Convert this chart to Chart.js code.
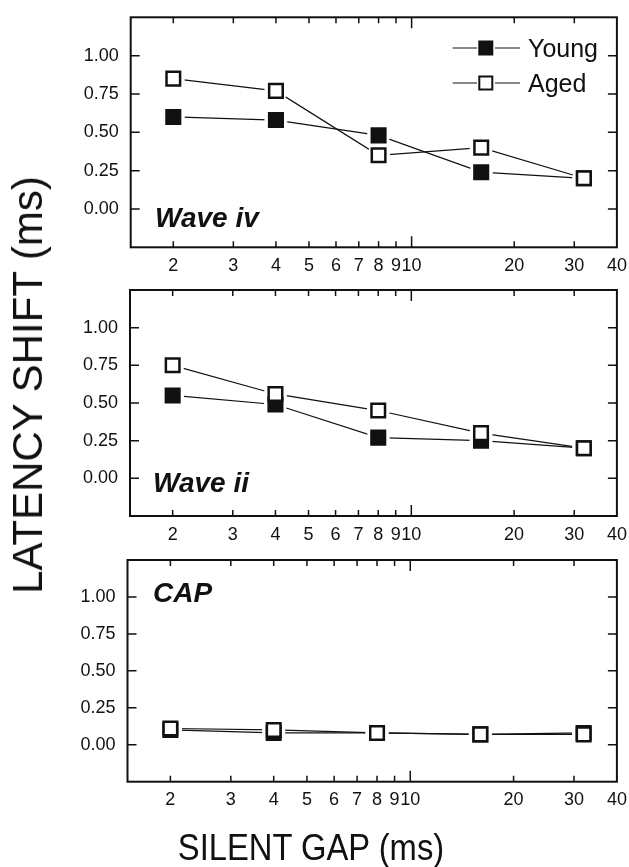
<!DOCTYPE html>
<html><head><meta charset="utf-8">
<script src="https://cdn.jsdelivr.net/npm/chart.js@4.4.1/dist/chart.umd.min.js"></script>
<style>
html,body{margin:0;padding:0;background:#fff;}
#wrap{position:relative;width:629px;height:867px;overflow:hidden;font-family:"Liberation Sans",Arial,sans-serif;background:#fff;}
canvas{position:absolute;left:0;top:0;}
.t{position:absolute;white-space:nowrap;color:#111;line-height:1;}
#ytitle{left:28px;top:385px;font-size:42px;transform:translate(-50%,-50%) rotate(-90deg);}
#xtitle{left:310.5px;top:830px;font-size:36px;transform:translateX(-50%) scaleX(0.91);}
</style></head><body>
<div id="wrap">
<canvas id="c1" width="629" height="867"></canvas>
<canvas id="c2" width="629" height="867"></canvas>
<canvas id="c3" width="629" height="867"></canvas>
<div class="t" id="ytitle">LATENCY SHIFT (ms)</div>
<div class="t" id="xtitle">SILENT GAP (ms)</div>
</div>
<script>
// ---- data ----
const gaps = [2, 4, 8, 16, 32];
const waveIvYoung = [0.60, 0.58, 0.48, 0.24, 0.20];
const waveIvAged  = [0.85, 0.77, 0.35, 0.40, 0.20];
const waveIiYoung = [0.55, 0.49, 0.27, 0.25, 0.20];
const waveIiAged  = [0.75, 0.56, 0.45, 0.30, 0.20];
const capYoung    = [0.10, 0.08, 0.08, 0.07, 0.08];
const capAged     = [0.11, 0.10, 0.08, 0.07, 0.07];
const xTickLabels = [2, 3, 4, 5, 6, 7, 8, 9, 10, 20, 30, 40];
const yTickLabels = [0.00, 0.25, 0.50, 0.75, 1.00];
const seriesNames = ['Young', 'Aged'];
const panelNames  = ['Wave iv', 'Wave ii', 'CAP'];

const ink = '#111';
const FONT = '"Liberation Sans", Arial, sans-serif';
Chart.defaults.font.family = FONT;
Chart.defaults.color = ink;

const framePlugin = {
  id: 'frame',
  afterDraw(chart, args, opts) {
    const {ctx, chartArea: a} = chart;
    const x = chart.scales.x, y = chart.scales.y;
    ctx.save();
    ctx.strokeStyle = ink;
    ctx.lineWidth = 2;
    ctx.strokeRect(a.left, a.top, a.right - a.left, a.bottom - a.top);
    ctx.lineWidth = 1.5;
    ctx.beginPath();
    y.ticks.forEach(t => {
      if (t.value <= y.min + 1e-9 || t.value >= y.max - 1e-9) return;
      const py = y.getPixelForValue(t.value);
      const major = Math.abs(t.value * 4 - Math.round(t.value * 4)) < 1e-9;
      const L = major ? 9 : 6;
      ctx.moveTo(a.left, py); ctx.lineTo(a.left + L, py);
      ctx.moveTo(a.right, py); ctx.lineTo(a.right - L, py);
    });
    x.ticks.forEach(t => {
      if (t.value >= x.max) return;
      const px = x.getPixelForValue(t.value);
      const L = t.value === 10 ? 11 : 6;
      ctx.moveTo(px, a.bottom); ctx.lineTo(px, a.bottom - L);
      ctx.moveTo(px, a.top); ctx.lineTo(px, a.top + L);
    });
    ctx.stroke();
    // panel label
    ctx.fillStyle = ink;
    ctx.font = 'italic bold 28px ' + FONT;
    ctx.textBaseline = 'alphabetic';
    ctx.textAlign = 'left';
    ctx.fillText(opts.label, opts.lx, opts.ly);
    // legend
    if (opts.legend) {
      const rows = [{name: seriesNames[0], fill: ink, cy: 48}, {name: seriesNames[1], fill: '#fff', cy: 83}];
      rows.forEach(r => {
        ctx.lineWidth = 1.2;
        ctx.strokeStyle = ink;
        ctx.beginPath();
        ctx.moveTo(452.7, r.cy); ctx.lineTo(477, r.cy);
        ctx.moveTo(495, r.cy); ctx.lineTo(520, r.cy);
        ctx.stroke();
        ctx.fillStyle = r.fill;
        ctx.fillRect(479.3, r.cy - 6.5, 13, 13);
        ctx.lineWidth = 2;
        ctx.strokeRect(479.3, r.cy - 6.5, 13, 13);
        ctx.fillStyle = ink;
        ctx.font = '25px ' + FONT;
        ctx.fillText(r.name, 528, r.cy + 8.7);
      });
    }
    ctx.restore();
  }
};

function makePanel(id, young, aged, geo) {
  const pts = arr => gaps.map((g, i) => ({x: g, y: arr[i]}));
  const datasets = [
    {data: pts(young), showLine: true, borderColor: ink, borderWidth: 1.2, pointRadius: 0, order: 6},
    {data: pts(aged), showLine: true, borderColor: ink, borderWidth: 1.2, pointRadius: 0, order: 5},
    {data: pts(young), showLine: false, pointStyle: 'circle', pointRadius: 11.5, pointBackgroundColor: '#fff', pointBorderWidth: 0, order: 4},
    {data: pts(aged), showLine: false, pointStyle: 'circle', pointRadius: 11.5, pointBackgroundColor: '#fff', pointBorderWidth: 0, order: 3},
    {label: seriesNames[0], data: pts(young), showLine: false, pointStyle: 'rect', pointRadius: 9.6, pointBackgroundColor: ink, pointBorderColor: ink, pointBorderWidth: 2.5, order: 2},
    {label: seriesNames[1], data: pts(aged), showLine: false, pointStyle: 'rect', pointRadius: 9.6, pointBackgroundColor: '#fff', pointBorderColor: ink, pointBorderWidth: 2.5, order: 1}
  ];
  return new Chart(document.getElementById(id), {
    type: 'scatter',
    data: {datasets},
    plugins: [framePlugin],
    options: {
      responsive: false, animation: false, devicePixelRatio: 1, events: [],
      layout: {padding: {top: geo.top, left: 0, right: 629 - geo.right, bottom: 0}},
      plugins: {
        legend: {display: false}, tooltip: {enabled: false},
        frame: {label: geo.label, lx: geo.lx, ly: geo.ly, legend: geo.legend}
      },
      scales: {
        x: {
          type: 'logarithmic', position: 'bottom', min: 1.5, max: 40, bounds: 'data',
          afterBuildTicks: s => { s.ticks = xTickLabels.map(v => ({value: v})); },
          afterFit: s => { s.height = 867 - geo.bottom; s.paddingLeft = 0; s.paddingRight = 0; },
          grid: {display: false, drawTicks: false}, border: {display: false},
          ticks: {autoSkip: false, maxRotation: 0, minRotation: 0, padding: geo.xpad, color: ink,
                  font: {size: 18}, callback: v => String(v)}
        },
        y: {
          type: 'linear', min: -0.25, max: 1.25, bounds: 'data',
          afterFit: s => { s.width = geo.left; s.paddingTop = 0; s.paddingBottom = 0; },
          grid: {display: false, drawTicks: false}, border: {display: false},
          ticks: {stepSize: 0.125, padding: 12, color: ink, font: {size: 18},
                  callback: v => yTickLabels.some(t => Math.abs(t - v) < 1e-9) ? v.toFixed(2) : ''}
        }
      }
    }
  });
}

makePanel('c1', waveIvYoung, waveIvAged, {top: 17.3, bottom: 247.3, left: 130.7, right: 618.3, xpad: 8, label: panelNames[0], lx: 155, ly: 227, legend: true});
makePanel('c2', waveIiYoung, waveIiAged, {top: 290, bottom: 516, left: 130, right: 618.3, xpad: 8, label: panelNames[1], lx: 153, ly: 492, legend: false});
makePanel('c3', capYoung, capAged, {top: 560, bottom: 781.7, left: 127.5, right: 620, xpad: 7.5, label: panelNames[2], lx: 153, ly: 602, legend: false});
</script>
</body></html>
